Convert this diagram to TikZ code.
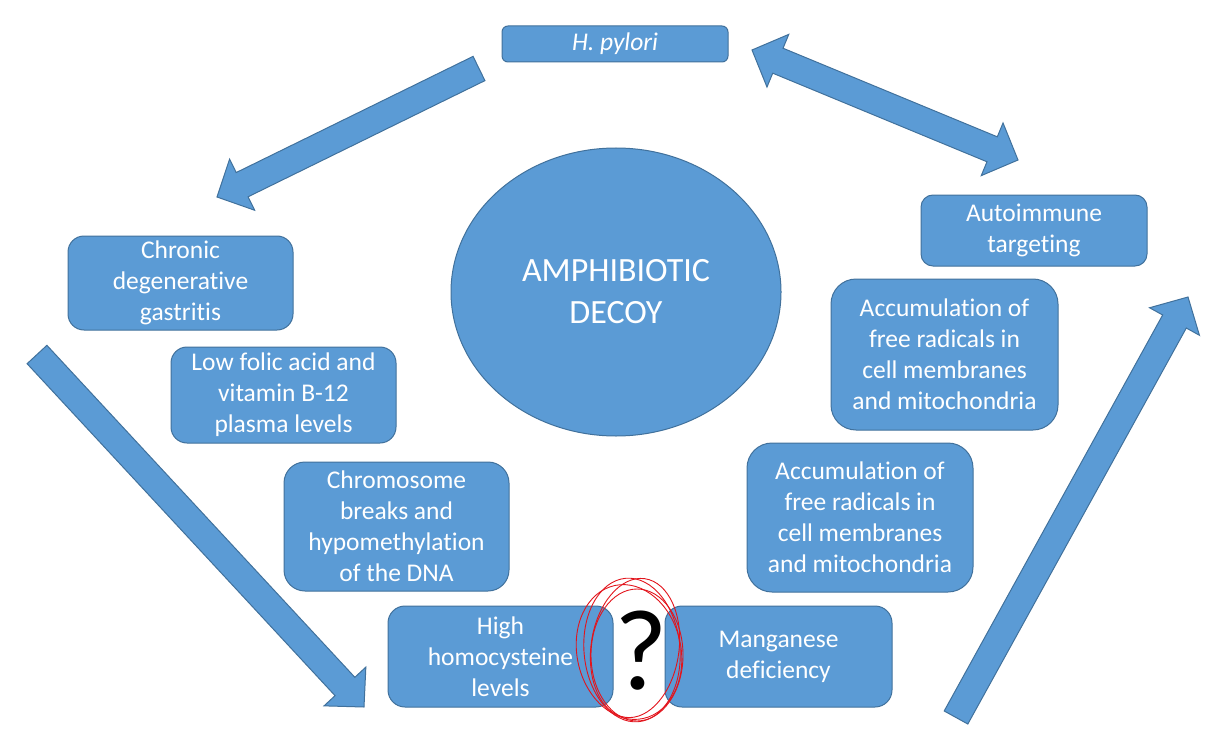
\documentclass[tikz,border=0pt]{standalone}
\usepackage{fontspec}
\setmainfont{Carlito}[Ligatures=NoCommon]
\usetikzlibrary{calc}
\usetikzlibrary{shapes.geometric}

\definecolor{boxfill}{RGB}{91,155,213}
\definecolor{boxline}{RGB}{65,113,156}
\definecolor{scribble}{RGB}{226,20,28}

\newcommand{\boxfont}{\fontsize{25.5}{31}\selectfont}
\newcommand{\decoyfont}{\fontsize{34}{42}\selectfont}
\newcommand{\queryfont}{\fontsize{115}{115}\selectfont}

\tikzset{
  box/.style={draw=boxline, fill=boxfill, line width=1pt, text=white,
    rounded corners=#1, align=center, inner sep=0pt, font=\boxfont},
  arrowbody/.style={draw=boxline, fill=boxfill, line width=1pt, line join=miter},
  redline/.style={draw=scribble, line width=0.9pt}
}

% block arrow from #1 (tail) to #2 (tip)
\newcommand{\blockarrow}[2]{%
  \coordinate (ba-n) at ($(#2)!28pt!(#1)$);
  \filldraw[arrowbody] ($(#1)!13.5pt!90:(#2)$) -- ($(ba-n)!13.5pt!-90:(#1)$)
    -- ($(ba-n)!28.5pt!-90:(#1)$) -- (#2) -- ($(ba-n)!28.5pt!90:(#1)$)
    -- ($(ba-n)!13.5pt!90:(#1)$) -- ($(#1)!13.5pt!-90:(#2)$) -- cycle;}

% block arrow with a head at both ends
\newcommand{\dblblockarrow}[2]{%
  \coordinate (ba-m) at ($(#1)!28pt!(#2)$);
  \coordinate (ba-n) at ($(#2)!28pt!(#1)$);
  \filldraw[arrowbody] (#1) -- ($(ba-m)!28.5pt!90:(#2)$) -- ($(ba-m)!13.5pt!90:(#2)$)
    -- ($(ba-n)!13.5pt!-90:(#1)$) -- ($(ba-n)!28.5pt!-90:(#1)$) -- (#2)
    -- ($(ba-n)!28.5pt!90:(#1)$) -- ($(ba-n)!13.5pt!90:(#1)$)
    -- ($(ba-m)!13.5pt!-90:(#2)$) -- ($(ba-m)!28.5pt!-90:(#2)$) -- cycle;}

\begin{document}
\begin{tikzpicture}[x=1pt, y=-1pt]
  \useasboundingbox (0,0) rectangle (1209,738);

  % Arrows round the cycle
  \coordinate (pylorustail) at (479,68.5);
  \coordinate (gastritistip) at (217,197);
  \coordinate (pylorustip) at (752,50);
  \coordinate (autoimmunetip) at (1018,160);
  \coordinate (lefttail) at (37,354.5);
  \coordinate (lefttip) at (364,707);
  \coordinate (righttail) at (956,717.5);
  \coordinate (righttip) at (1188,297);
  \blockarrow{pylorustail}{gastritistip}
  \dblblockarrow{pylorustip}{autoimmunetip}
  \blockarrow{lefttail}{lefttip}
  \blockarrow{righttail}{righttip}

  % Centre
  \node[ellipse, draw=boxline, fill=boxfill, line width=1pt, text=white, align=center,
    minimum width=330pt, minimum height=288pt, inner sep=0pt, font=\decoyfont]
    (decoy) at (616,292) {AMPHIBIOTIC\\DECOY};

  % Boxes
  \node[box=6pt, minimum width=226pt, minimum height=36pt, font=\boxfont\itshape]
    (hpylori) at (615,44) {H. pylori};
  \node[box=16pt, minimum width=225pt, minimum height=94pt]
    (gastritis) at (180.5,283) {Chronic\\degenerative\\gastritis};
  \node[box=16pt, minimum width=225pt, minimum height=96pt]
    (folic) at (283.5,395) {Low folic acid and\\vitamin B-12\\plasma levels};
  \node[box=21pt, minimum width=225pt, minimum height=129pt]
    (chromosome) at (396.5,526.5) {Chromosome\\breaks and\\hypomethylation\\of the DNA};
  \node[box=17pt, minimum width=225pt, minimum height=101pt]
    (homocysteine) at (500.5,656.5) {High\\homocysteine\\levels};
  \node[box=17pt, minimum width=227pt, minimum height=101pt]
    (manganese) at (778.5,656.5) {Manganese\\deficiency};
  \node[box=25pt, minimum width=226pt, minimum height=149pt]
    (radicalslow) at (860,517.5) {Accumulation of\\free radicals in\\cell membranes\\and mitochondria};
  \node[box=25pt, minimum width=227pt, minimum height=151pt]
    (radicalsup) at (944.5,354.5) {Accumulation of\\free radicals in\\cell membranes\\and mitochondria};
  \node[box=12pt, minimum width=226pt, minimum height=71pt]
    (autoimmune) at (1034,230.5) {Autoimmune\\targeting};

  % Question mark and scribble
  \node[font=\queryfont, inner sep=0pt] (query) at (641,651) {?};
  \draw[redline] (query.center) ++(-9,-1) ellipse [x radius=48, y radius=72, rotate=5];
  \draw[redline] (query.center) ++(-6,-3) ellipse [x radius=44, y radius=70, rotate=-8];
  \draw[redline] (query.center) ++(-12,1) ellipse [x radius=52, y radius=68, rotate=12];
  \draw[redline] (query.center) ++(-4,4) ellipse [x radius=46, y radius=66, rotate=0];
\end{tikzpicture}
\end{document}
